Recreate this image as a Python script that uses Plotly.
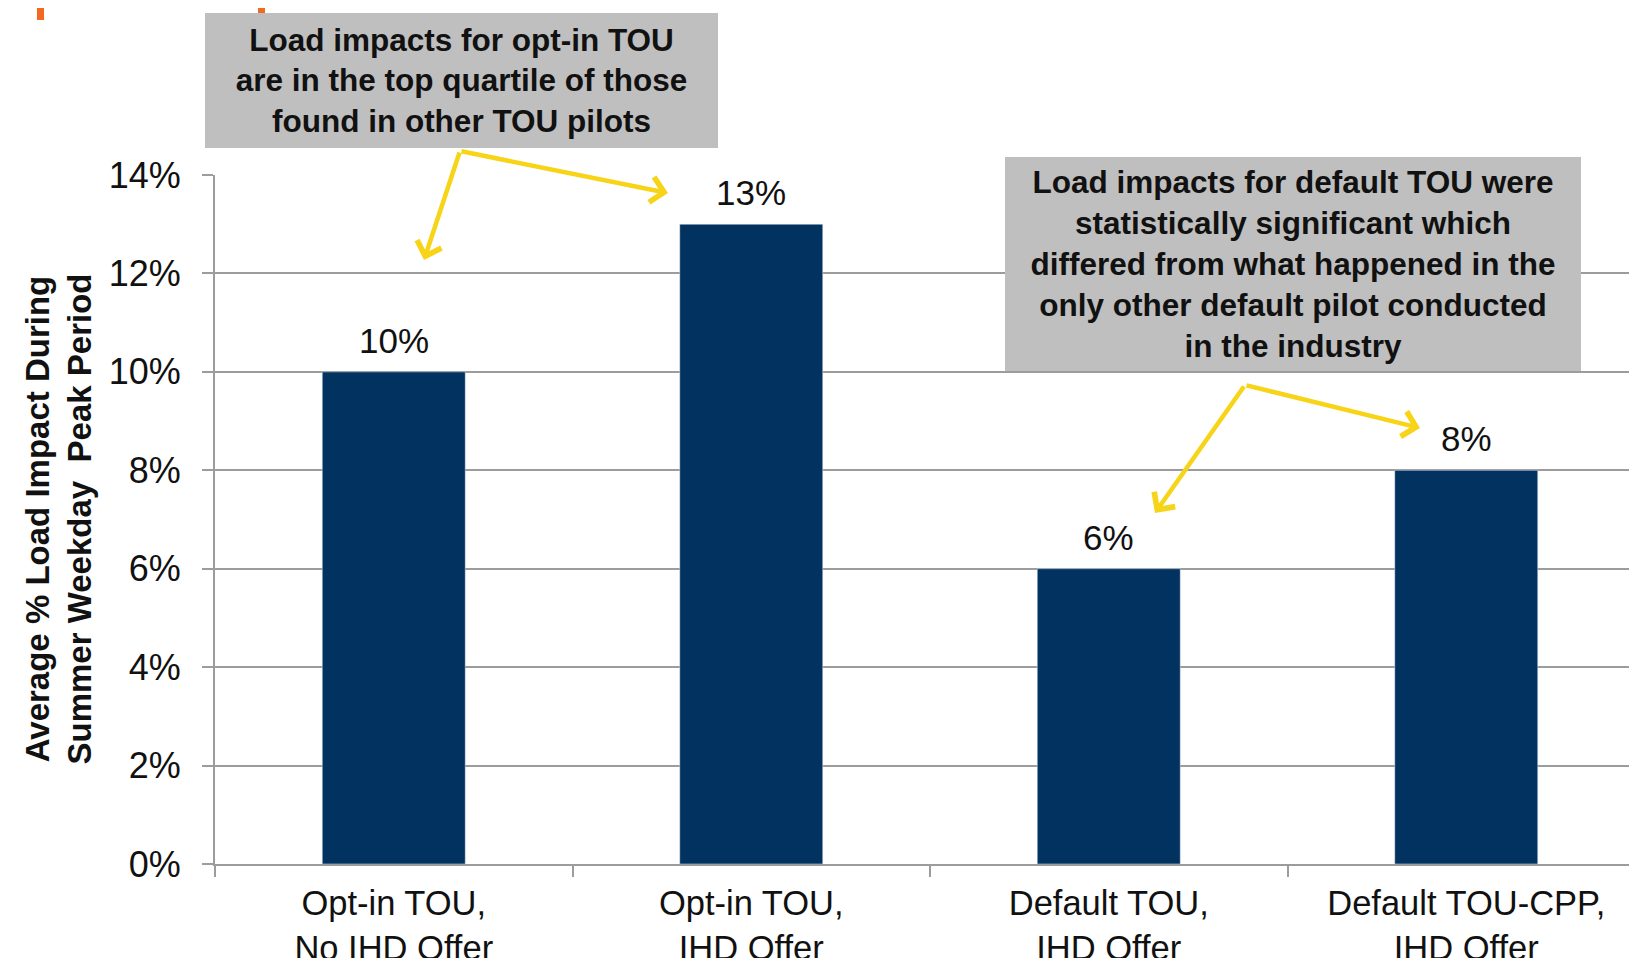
import plotly.graph_objects as go

# data
categories = ["Opt-in TOU,<br>No IHD Offer", "Opt-in TOU,<br>IHD Offer",
              "Default TOU,<br>IHD Offer", "Default TOU-CPP,<br>IHD Offer"]
load_impact = [10, 13, 6, 8]
y_ticks = [0, 2, 4, 6, 8, 10, 12, 14]

note_optin = "<b>Load impacts for opt-in TOU<br>are in the top quartile of those<br>found in other TOU pilots</b>"
note_default = ("<b>Load impacts for default TOU were<br>statistically significant which<br>"
                "differed from what happened in the<br>only other default pilot conducted<br>in the industry</b>")
y_title = "<b>Average % Load Impact During<br>Summer Weekday\u00a0 Peak Period</b>"

FONT = "Liberation Sans, Arial, sans-serif"
NAVY = "#02325f"
GRID = "#9c9c9c"
YELLOW = "#f7d417"
ORANGE = "#f26a21"

# plot area in pixels: x 207..1637, y 167..856
L, R, T, B = 207, 0, 167, 102
W, H = 1637, 958
PW, PH = W - L - R, H - T - B


def px_x(x):
    return (x - L) / PW


def px_y(y):
    return (H - B - y) / PH


fig = go.Figure()
fig.add_bar(x=categories, y=load_impact, width=0.4, marker_color=NAVY, showlegend=False)

# value labels above bars
for c, v in zip(categories, load_impact):
    fig.add_annotation(x=c, y=v, text=f"{v}%", showarrow=False, yanchor="bottom", yshift=10,
                       font=dict(family=FONT, size=35, color="#111"))

# callout boxes
box = dict(xref="paper", yref="paper", xanchor="center", yanchor="middle", showarrow=False,
           bgcolor="#bfbfbf", borderpad=0, borderwidth=0, align="center",
           font=dict(family=FONT, size=31.5, color="#111"))
fig.add_annotation(x=px_x(453.5), y=px_y(72.5), text=note_optin, width=513, height=135, **box)
fig.add_annotation(x=px_x(1285), y=px_y(256), text=note_default, width=576, height=214, **box)

# yellow arrows (tip, tail in pixels)
arrows = [((416, 252), (452, 143)), ((660, 185), (452, 143)),
          ((1147, 505), (1237, 377)), ((1412, 420), (1237, 377))]
for (tx, ty), (sx, sy) in arrows:
    fig.add_annotation(xref="paper", yref="paper", x=px_x(tx), y=px_y(ty), ax=sx - tx, ay=sy - ty,
                       axref="pixel", ayref="pixel", text="", showarrow=True, arrowhead=4,
                       arrowsize=1.1, arrowwidth=4.5, arrowcolor=YELLOW, standoff=0, startstandoff=0)

# y-axis title
fig.add_annotation(xref="paper", yref="paper", x=px_x(50), y=0.5, xanchor="center", yanchor="middle",
                   text=y_title, textangle=-90, showarrow=False,
                   font=dict(family=FONT, size=33, color="#111"), align="center")

# orange slide decoration at the top edge
fig.add_shape(type="rect", xref="paper", yref="paper", x0=px_x(29), x1=px_x(36), y0=px_y(12), y1=px_y(0),
              fillcolor=ORANGE, line_width=0)
fig.add_shape(type="rect", xref="paper", yref="paper", x0=px_x(250), x1=px_x(257), y0=px_y(5), y1=px_y(0),
              fillcolor=ORANGE, line_width=0)

fig.update_xaxes(type="category", range=[-0.5, 3.5], showgrid=False, showline=True, linecolor=GRID,
                 linewidth=2, ticks="outside", tickson="boundaries", ticklen=11, tickcolor=GRID, tickwidth=2,
                 tickfont=dict(family=FONT, size=34.5, color="#111"), ticklabelstandoff=8, automargin=False)
fig.update_yaxes(range=[0, 14], tickvals=y_ticks, ticktext=[f"{t}%" for t in y_ticks], showgrid=True,
                 gridcolor=GRID, gridwidth=1.8, showline=True, linecolor=GRID, linewidth=2, ticks="outside",
                 ticklen=11, tickcolor=GRID, tickwidth=2, zeroline=False, automargin=False,
                 tickfont=dict(family=FONT, size=36, color="#111"), ticklabelstandoff=14)
fig.update_layout(width=W, height=H, margin=dict(l=L, r=R, t=T, b=B), plot_bgcolor="white",
                  paper_bgcolor="white", bargap=0.6)

fig.write_html("out.html")
